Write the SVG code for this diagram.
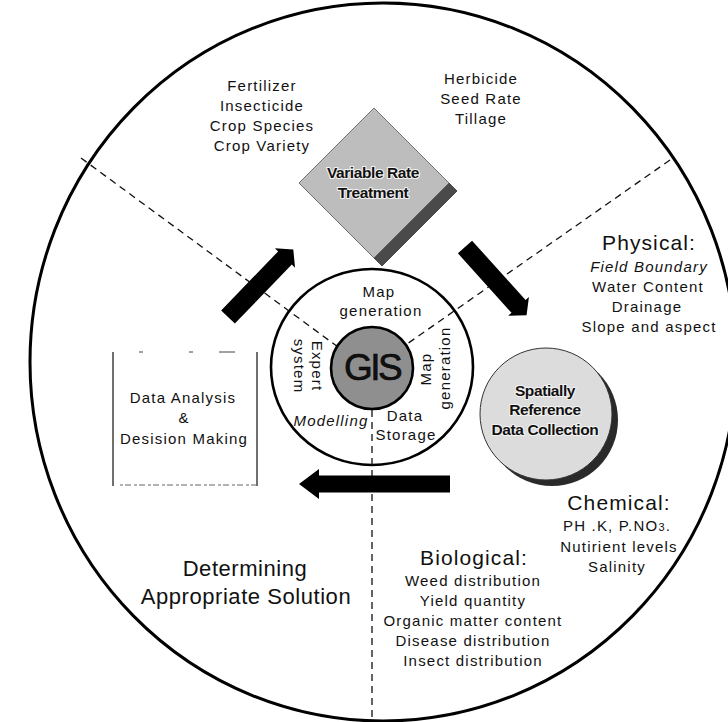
<svg xmlns="http://www.w3.org/2000/svg" width="728" height="722" viewBox="0 0 728 722">
<style>
  text { font-family: "Liberation Sans", Arial, sans-serif; fill: #111; }
  .t15 { font-size: 15px; letter-spacing: 1.2px; text-anchor: middle; }
  .head { font-size: 21px; letter-spacing: 1.1px; text-anchor: middle; }
  .big { font-size: 22px; letter-spacing: 0.55px; text-anchor: middle; }
  .bold { font-size: 15.5px; font-weight: bold; letter-spacing: -0.4px; text-anchor: middle; stroke: #f2f2f2; stroke-width: 2.2px; paint-order: stroke; stroke-linejoin: round; }
  .dash { fill: none; stroke: #111; stroke-width: 1.3; stroke-dasharray: 7 5; }
  .arrow { fill: #000; }
</style>
<rect width="728" height="722" fill="#fff"/>
<g id="outer-circle">
  <ellipse cx="383" cy="362" rx="353" ry="359" fill="#fff" stroke="#000" stroke-width="3"/>
</g>
<g id="connectors">
  <line class="dash" x1="81" y1="158" x2="338" y2="347"/>
  <line class="dash" x1="670" y1="160" x2="407" y2="344"/>
  <line class="dash" x1="372" y1="410" x2="372" y2="720"/>
  <polygon class="arrow" transform="translate(228,317) rotate(-46)" points="0,-9.5 82,-9.5 82,-14 94,0 82,14 82,9.5 0,9.5"/>
  <polygon class="arrow" transform="translate(465,247) rotate(48)" points="0,-9.5 80,-9.5 80,-14 92,0 80,14 80,9.5 0,9.5"/>
  <polygon class="arrow" transform="translate(450,484) rotate(180)" points="0,-8.5 131,-8.5 131,-15 151,0 131,15 131,8.5 0,8.5"/>
</g>
<g id="ring">
  <ellipse cx="372" cy="367" rx="101" ry="98" fill="none" stroke="#000" stroke-width="2.6"/>
  <text class="t15" x="379" y="297">Map</text>
  <text class="t15" x="381" y="316">generation</text>
  <text class="t15" transform="translate(312,366) rotate(90)">Expert</text>
  <text class="t15" transform="translate(294,366) rotate(90)">system</text>
  <text class="t15" transform="translate(431,369) rotate(-90)">Map</text>
  <text class="t15" transform="translate(450,368) rotate(-90)">generation</text>
  <text class="t15" x="331" y="426" font-style="italic">Modelling</text>
  <text class="t15" x="405" y="421">Data</text>
  <text class="t15" x="406" y="440">Storage</text>
</g>
<g id="gis">
  <circle cx="372" cy="368" r="41" fill="#8f8f8f" stroke="#000" stroke-width="2.6"/>
  <text x="372" y="380" font-size="37" text-anchor="middle" letter-spacing="-2.5" stroke="#000" stroke-width="0.6">GIS</text>
</g>
<g id="variable-rate-treatment">
  <polygon points="449,183 457,191 382,266 374,258" fill="#4a4a4a" stroke="#333" stroke-width="0.8"/>
  <polygon points="374,108 449,183 374,258 299,183" fill="#bdbdbd" stroke="#555" stroke-width="0.8"/>
  <text class="bold" x="373" y="178">Variable Rate</text>
  <text class="bold" x="373" y="198">Treatment</text>
</g>
<g id="spatial-data-collection">
  <circle cx="552" cy="420" r="66" fill="#2a2a2a"/>
  <circle cx="546" cy="414" r="66" fill="#dcdcdc" stroke="#333" stroke-width="1"/>
  <text class="bold" x="545" y="396">Spatially</text>
  <text class="bold" x="545" y="415">Reference</text>
  <text class="bold" x="545" y="435">Data Collection</text>
</g>
<g id="data-analysis">
  <line x1="113" y1="352" x2="113" y2="486" stroke="#111" stroke-width="1.2"/>
  <line x1="257" y1="352" x2="257" y2="486" stroke="#111" stroke-width="1.2"/>
  <line x1="113" y1="352" x2="257" y2="352" stroke="#444" stroke-width="1" stroke-dasharray="0 26 4 46 4 26 16 30"/>
  <line x1="120" y1="485" x2="257" y2="485" stroke="#666" stroke-width="1" stroke-dasharray="3 2 6 3"/>
  <text class="t15" x="183" y="403" letter-spacing="0.9">Data Analysis</text>
  <text class="t15" x="184" y="423">&amp;</text>
  <text class="t15" x="184" y="444" letter-spacing="0.9">Desision Making</text>
</g>
<g id="treatment-list-left">
  <text class="t15" x="262" y="91">Fertilizer</text>
  <text class="t15" x="262" y="111">Insecticide</text>
  <text class="t15" x="262" y="131">Crop Species</text>
  <text class="t15" x="262" y="151">Crop Variety</text>
</g>
<g id="treatment-list-right">
  <text class="t15" x="481" y="84" letter-spacing="1.4">Herbicide</text>
  <text class="t15" x="481" y="104" letter-spacing="1.4">Seed Rate</text>
  <text class="t15" x="481" y="124" letter-spacing="1.4">Tillage</text>
</g>
<g id="physical">
  <text class="head" x="649" y="250">Physical:</text>
  <text class="t15" x="649" y="272" font-style="italic" letter-spacing="1.15">Field Boundary</text>
  <text class="t15" x="648" y="292">Water Content</text>
  <text class="t15" x="647" y="312">Drainage</text>
  <text class="t15" x="649" y="332">Slope and aspect</text>
</g>
<g id="chemical">
  <text class="head" x="619" y="510" letter-spacing="1.3">Chemical:</text>
  <text class="t15" x="617" y="531" letter-spacing="0.9">PH .K, P.NO<tspan font-size="11">3</tspan>.</text>
  <text class="t15" x="619" y="552" letter-spacing="0.9">Nutirient levels</text>
  <text class="t15" x="617" y="572" letter-spacing="0.9">Salinity</text>
</g>
<g id="biological">
  <text class="head" x="474" y="565" letter-spacing="1.3">Biological:</text>
  <text class="t15" x="473" y="586" letter-spacing="1.3">Weed distribution</text>
  <text class="t15" x="473" y="606" letter-spacing="1.3">Yield quantity</text>
  <text class="t15" x="473" y="626" letter-spacing="1.3">Organic matter content</text>
  <text class="t15" x="473" y="646" letter-spacing="1.3">Disease distribution</text>
  <text class="t15" x="473" y="666" letter-spacing="1.3">Insect distribution</text>
</g>
<g id="solution">
  <text class="big" x="245" y="576">Determining</text>
  <text class="big" x="246" y="604">Appropriate Solution</text>
</g>
</svg>
